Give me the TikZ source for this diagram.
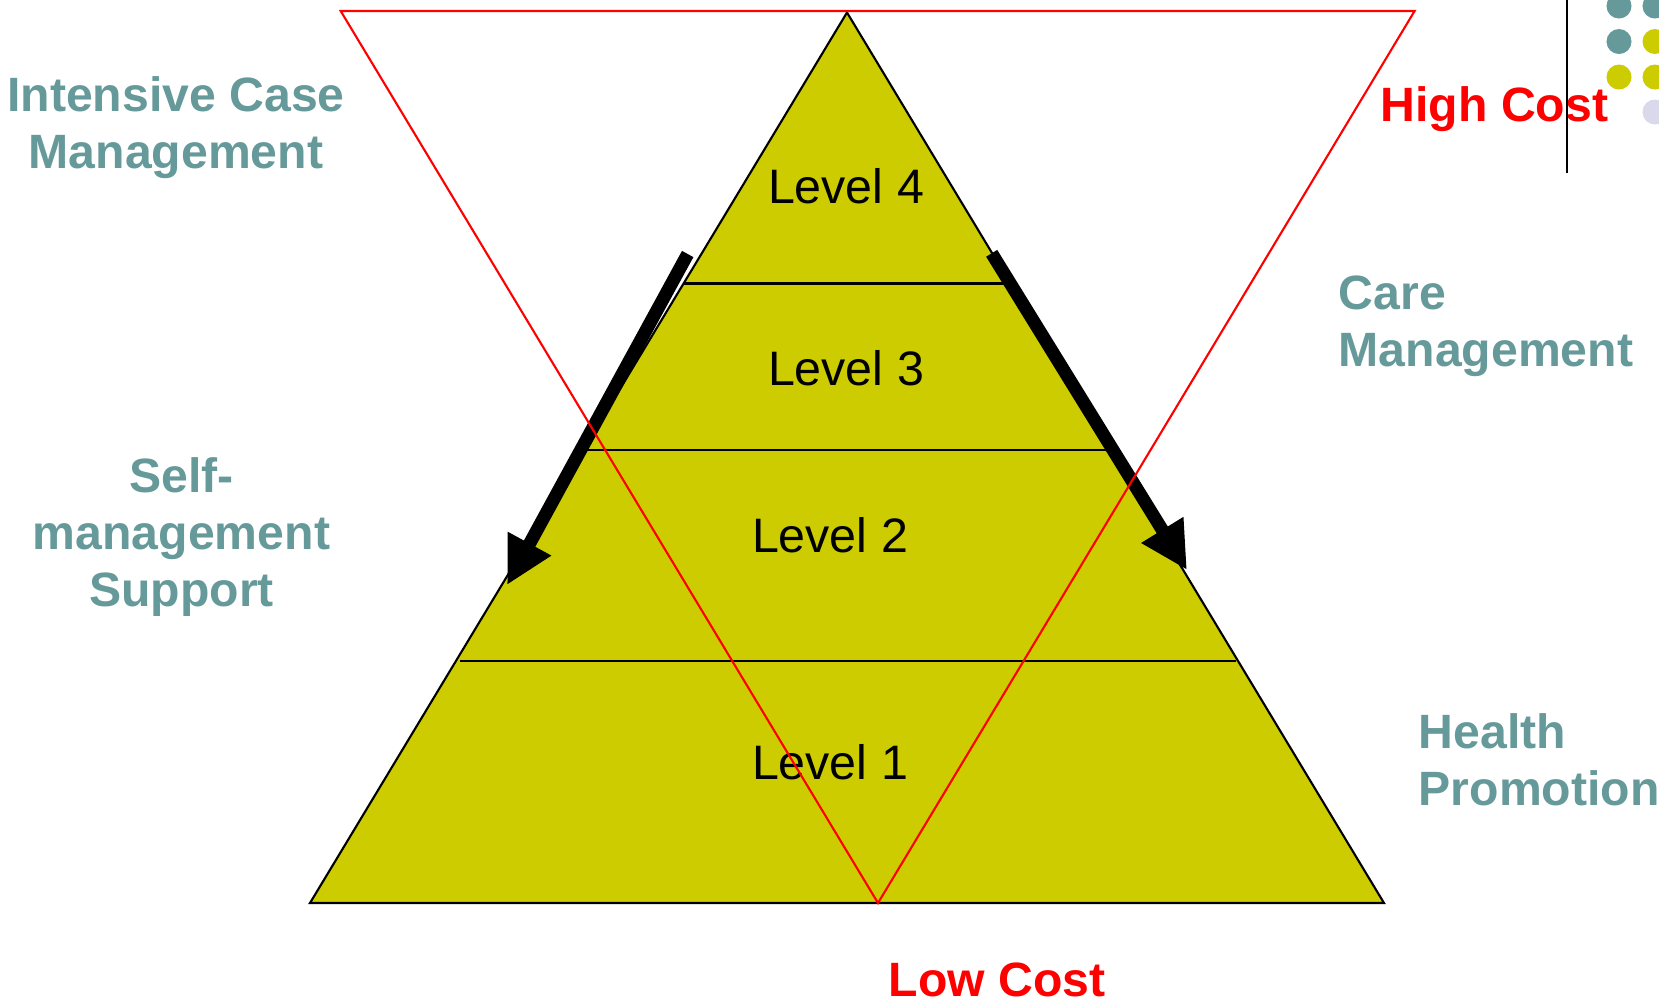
\documentclass[tikz,border=0pt]{standalone}
\usepackage{fontspec}
\setmainfont{Liberation Sans}
\usetikzlibrary{arrows.meta}
\definecolor{labelteal}{RGB}{102,153,153}
\definecolor{pyrfill}{RGB}{204,204,0}
\definecolor{dotlilac}{RGB}{217,217,235}

\begin{document}
\begin{tikzpicture}[x=0.01cm, y=-0.01cm, line join=miter]
\tikzset{
    lvl/.style=     {font=\fontsize{13.75}{16.2}\selectfont, inner sep=0pt, anchor=base},
    side/.style=    {font=\fontsize{13.7}{16.2}\selectfont\bfseries, text=labelteal, inner sep=0pt, anchor=base},
    cost/.style=    {font=\fontsize{13.7}{16.2}\selectfont\bfseries, text=red, inner sep=0pt, anchor=base west},
    bigarrow/.style={line width=3.7pt, -{Triangle[length=13.4pt,width=13.1pt]}},
    redline/.style= {red, line width=0.6pt}
}
\useasboundingbox (0,0) rectangle (1659,999);

%% Pyramid and its levels
\coordinate (apex) at (847,12.5);
\coordinate (bl) at (310,903);
\coordinate (br) at (1384,903);
\draw [fill=pyrfill, line width=0.6pt] (apex) -- (bl) -- (br) -- cycle;
\draw [line width=0.6pt] (684,283.5) -- (1010,283.5);
\draw [line width=0.6pt] (584,450) -- (1110,450);
\draw [line width=0.6pt] (460,661) -- (1236,661);

\node [lvl] (lev4) at (846,203.3) {Level 4};
\node [lvl] (lev3) at (846,385) {Level 3};
\node [lvl] (lev2) at (830,552.3) {Level 2};
\node [lvl] (lev1) at (830,779.3) {Level 1};

%% Arrows along the sides
\coordinate (ltail) at (687.7,254);
\coordinate (ltip) at (507,585);
\coordinate (rtail) at (991.7,253.3);
\coordinate (rtip) at (1187,570);
\draw [bigarrow] (ltail) -- (ltip);
\draw [bigarrow] (rtail) -- (rtip);

%% Side labels (base = last line)
\node [side, align=center] (icm) at (176,168) {Intensive Case\\Management};
\node [side, align=center] (sms) at (181.5,606.7) {Self-\\management\\Support};
\node [side, align=left, anchor=base west] (care) at (1338,366.7) {Care\\Management};
\node [side, align=left, anchor=base west] (health) at (1418,805) {Health\\Promotion};
\node [cost] (high) at (1380,121.7) {High Cost};
\node [cost] (low) at (888,996) {Low Cost};

%% Inverted cost triangle
\coordinate (rtl) at (340.7,11);
\coordinate (rtr) at (1414.6,11);
\coordinate (rbot) at (878,903);
\draw [redline] (rtl) -- (rtr) -- (rbot) -- cycle;

%% Corner decoration
\draw [line width=0.6pt] (1567,0) -- (1567,173);
\fill [labelteal] (1619,6) circle (0.125cm);
\fill [labelteal] (1655,6) circle (0.125cm);
\fill [labelteal] (1619,41.5) circle (0.125cm);
\fill [pyrfill] (1655,41.5) circle (0.125cm);
\fill [pyrfill] (1619,77) circle (0.125cm);
\fill [pyrfill] (1655,77) circle (0.125cm);
\fill [dotlilac] (1655,112) circle (0.125cm);

\end{tikzpicture}
\end{document}
